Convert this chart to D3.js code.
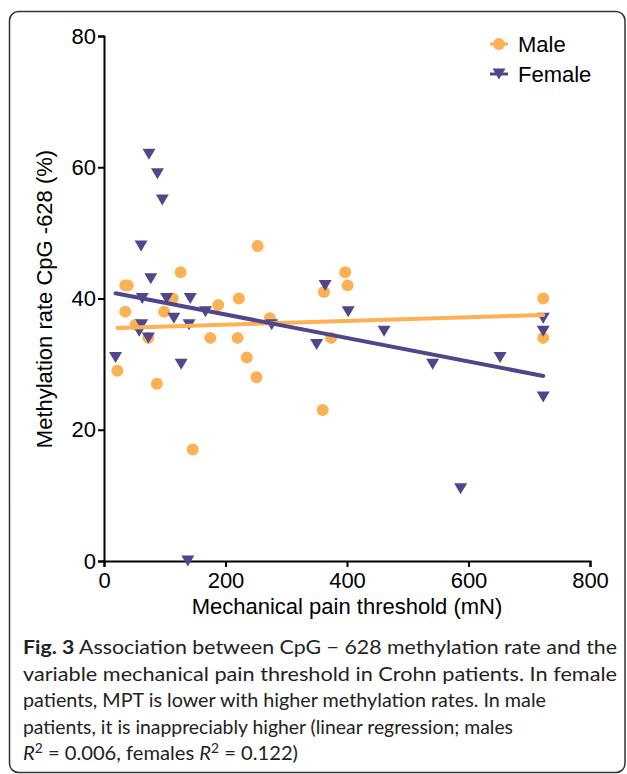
<!DOCTYPE html>
<html>
<head>
<meta charset="utf-8">
<script src="https://cdn.jsdelivr.net/npm/d3@7"></script>
<style>
  html, body { margin: 0; padding: 0; background: #fff; }
  svg { display: block; }
</style>
</head>
<body>
<div id="chart"></div>
<script>
// Male points (MPT in mN, methylation %)
const maleX = [253, 126, 35, 39, 113, 222, 188, 35, 99, 273, 52, 73, 175, 220, 235, 22, 251, 87, 146, 397, 401, 362, 374, 360, 723, 723];
const maleY = [48, 44, 42, 42, 40, 40, 39, 38, 38, 37, 36, 34, 34, 34, 31, 29, 28, 27, 17, 44, 42, 41, 34, 23, 40, 34];

// Female points
const femaleX = [74, 88, 96, 61, 77, 63, 103, 142, 115, 167, 276, 62, 140, 58, 73, 19, 127, 364, 402, 461, 350, 723, 723, 541, 652, 723, 587, 138];
const femaleY = [62, 59, 55, 48, 43, 40, 40, 40, 37, 38, 36, 36, 36, 35, 34, 31, 30, 42, 38, 35, 33, 37, 35, 30, 31, 25, 11, 0];

// Regression line ends
const maleFitX = [22, 723];
const maleFitY = [35.5, 37.5];
const femaleFitX = [19, 723];
const femaleFitY = [40.8, 28.2];

const xTicks = [0, 200, 400, 600, 800];
const yTicks = [0, 20, 40, 60, 80];

const series = ['Male', 'Female'];
const colors = { Male: '#fdb155', Female: '#51468b' };

const W = 627, H = 774;
const svg = d3.select('#chart').append('svg')
    .attr('width', W)
    .attr('height', H);

// frame round the figure and caption
svg.append('rect')
    .attr('x', 9.5).attr('y', 11.5)
    .attr('width', 615.5).attr('height', 761)
    .attr('rx', 9)
    .attr('fill', 'none')
    .attr('stroke', '#333')
    .attr('stroke-width', 1.5);

const x = d3.scaleLinear().domain([0, 800]).range([104, 590]);
const y = d3.scaleLinear().domain([0, 80]).range([561, 36]);

const font = 'Liberation Sans, Arial, sans-serif';

const xAxis = svg.append('g')
    .attr('transform', 'translate(0,' + y(0) + ')')
    .call(d3.axisBottom(x).tickValues(xTicks).tickSize(6).tickSizeOuter(6).tickPadding(5));

const yAxis = svg.append('g')
    .attr('transform', 'translate(' + x(0) + ',0)')
    .call(d3.axisLeft(y).tickValues(yTicks).tickSize(6).tickSizeOuter(6).tickPadding(2));

[xAxis, yAxis].forEach(g => {
    g.select('.domain').attr('stroke', '#000').attr('stroke-width', 2);
    g.selectAll('.tick line').attr('stroke', '#000').attr('stroke-width', 2);
    g.selectAll('.tick text')
        .attr('fill', '#000')
        .style('font-family', font)
        .style('font-size', '22px');
});

// axis titles
svg.append('text')
    .attr('x', 347).attr('y', 614)
    .attr('text-anchor', 'middle')
    .style('font-family', font).style('font-size', '22px')
    .text('Mechanical pain threshold (mN)');

svg.append('text')
    .attr('transform', 'translate(52,299) rotate(-90)')
    .attr('text-anchor', 'middle')
    .style('font-family', font).style('font-size', '22px')
    .text('Methylation rate CpG -628 (%)');

const male = maleX.map((v, i) => ({ x: v, y: maleY[i] }));
const female = femaleX.map((v, i) => ({ x: v, y: femaleY[i] }));

const tri = 'M-6.5,-5.5L6.5,-5.5L0,5.5Z';

svg.append('g').selectAll('circle')
    .data(male)
    .enter().append('circle')
    .attr('cx', d => x(d.x))
    .attr('cy', d => y(d.y))
    .attr('r', 6)
    .attr('fill', colors.Male);

svg.append('g').selectAll('path')
    .data(female)
    .enter().append('path')
    .attr('d', tri)
    .attr('transform', d => 'translate(' + x(d.x) + ',' + y(d.y) + ')')
    .attr('fill', colors.Female);

const line = d3.line().x(d => x(d[0])).y(d => y(d[1]));

svg.append('path')
    .datum(maleFitX.map((v, i) => [v, maleFitY[i]]))
    .attr('d', line)
    .attr('fill', 'none')
    .attr('stroke', colors.Male)
    .attr('stroke-width', 4)
    .attr('stroke-linecap', 'round');

svg.append('path')
    .datum(femaleFitX.map((v, i) => [v, femaleFitY[i]]))
    .attr('d', line)
    .attr('fill', 'none')
    .attr('stroke', colors.Female)
    .attr('stroke-width', 4)
    .attr('stroke-linecap', 'round');

// legend
const legend = svg.append('g');
series.forEach((s, i) => {
    const ly = 44 + i * 30;
    legend.append('line')
        .attr('x1', 490).attr('x2', 508)
        .attr('y1', ly).attr('y2', ly)
        .attr('stroke', colors[s]).attr('stroke-width', 3);
    if (s === 'Male') {
        legend.append('circle').attr('cx', 499).attr('cy', ly).attr('r', 6).attr('fill', colors[s]);
    } else {
        legend.append('path').attr('d', tri)
            .attr('transform', 'translate(499,' + ly + ')')
            .attr('fill', colors[s]);
    }
    legend.append('text')
        .attr('x', 518).attr('y', ly + 8)
        .style('font-family', font).style('font-size', '22px')
        .text(s);
});

// caption
const capFont = 'Lato, "Open Sans", sans-serif';
const capLines = [
    { y: 654, w: 594, parts: [['Fig. 3', 'bold'], [' Association between CpG \u2212 628 methylation rate and the']] },
    { y: 680.5, w: 594, parts: [['variable mechanical pain threshold in Crohn patients. In female']] },
    { y: 707, w: 523, parts: [['patients, MPT is lower with higher methylation rates. In male']] },
    { y: 733.5, w: 490, parts: [['patients, it is inappreciably higher (linear regression; males']] },
    { y: 760, w: 275, parts: [['R', 'italic'], ['2', 'sup'], [' = 0.006, females '], ['R', 'italic'], ['2', 'sup'], [' = 0.122)']] }
];

capLines.forEach(l => {
    const t = svg.append('text')
        .attr('x', 23).attr('y', l.y)
        .attr('textLength', l.w)
        .attr('lengthAdjust', 'spacingAndGlyphs')
        .style('font-family', capFont)
        .style('font-size', '19px')
        .attr('fill', '#222');
    let raised = false;
    l.parts.forEach(p => {
        const ts = t.append('tspan').text(p[0]);
        if (p[1] === 'bold') ts.style('font-weight', 'bold');
        if (p[1] === 'italic') ts.style('font-style', 'italic');
        if (p[1] === 'sup') {
            ts.attr('dy', -7).style('font-size', '13px');
            raised = true;
        } else if (raised) {
            ts.attr('dy', 7);
            raised = false;
        }
    });
});
</script>
</body>
</html>
